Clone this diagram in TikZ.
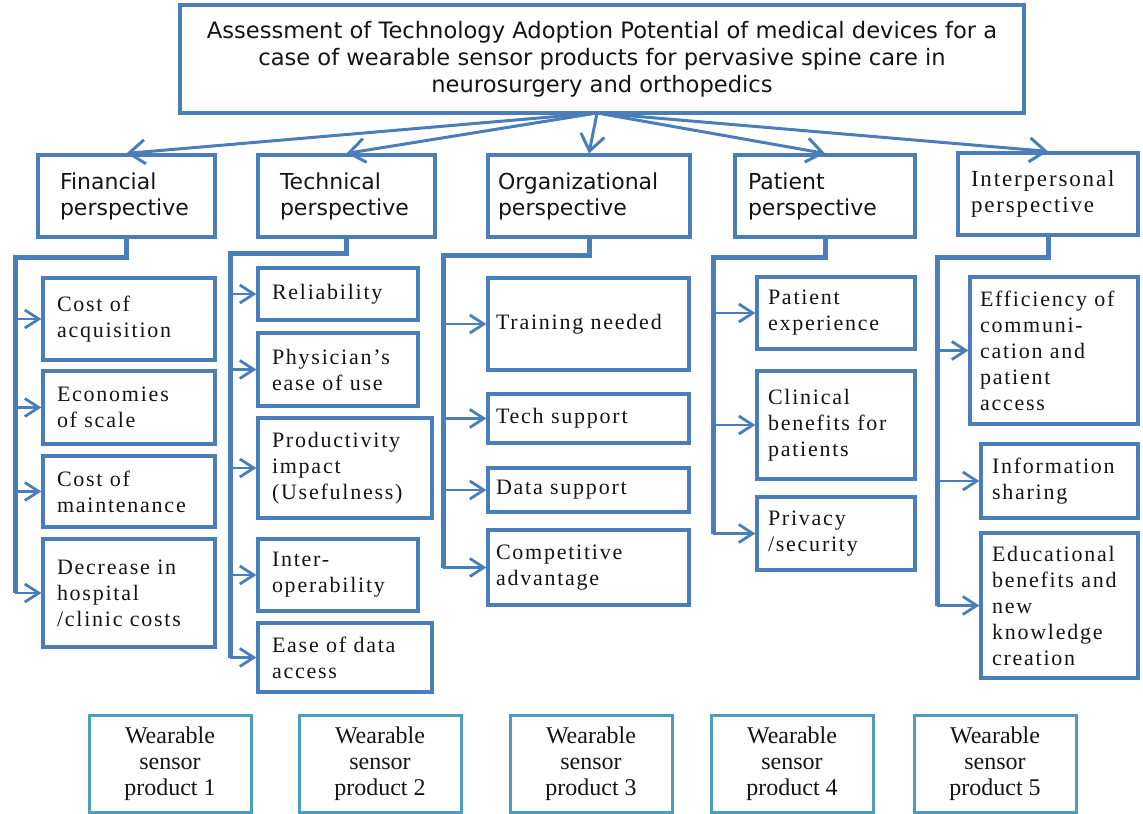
\documentclass[tikz,border=0pt]{standalone}
\usepackage{fontspec}
\setmainfont{Liberation Serif}
\newfontfamily\versans{DejaVu Sans}
\newfontfamily\subserif[LetterSpace=8]{Liberation Serif}
\usetikzlibrary{arrows.meta}

\definecolor{boxblue}{RGB}{74,126,187}
\definecolor{prodteal}{RGB}{75,158,188}
\definecolor{inkgray}{RGB}{20,20,20}

\begin{document}
\begin{tikzpicture}[x = 0.5pt, y = -0.5pt,
        bx/.style = {draw = boxblue, line width = 1.6pt, inner sep = 0pt, text = inkgray},
        titlebox/.style = {bx, align = center, font = \versans\fontsize{11.3}{13.5}\selectfont},
        persp/.style = {bx, align = left, minimum height = 41pt, font = \versans\fontsize{11}{13}\selectfont},
        sub/.style = {bx, align = left, font = \subserif\fontsize{11}{13}\selectfont},
        fincol/.style = {sub, minimum width = 86pt, text width = 72pt},
        teccol/.style = {sub, minimum width = 80pt, text width = 66pt},
        tecwide/.style = {sub, minimum width = 87pt, text width = 73pt},
        orgcol/.style = {sub, minimum width = 100.5pt, text width = 92.5pt},
        patcol/.style = {sub, minimum width = 79pt, text width = 68pt},
        intwide/.style = {sub, minimum width = 84pt, text width = 74pt},
        intcol/.style = {sub, minimum width = 78.5pt, text width = 67.5pt},
        prod/.style = {draw = prodteal, line width = 1.5pt, inner sep = 0pt, text = inkgray, align = center,
            minimum width = 81pt, minimum height = 48.5pt, font = \fontsize{12}{13}\selectfont},
        fan/.style = {boxblue, line width = 1.5pt, -{Straight Barb[length = 8pt, width = 12pt]}},
        bus/.style = {boxblue, line width = 2.5pt},
        arr/.style = {boxblue, line width = 1.4pt, -{Straight Barb[length = 7pt, width = 9pt]}}
    ]
        \useasboundingbox (0,0) rectangle (1143,813);

        \node[titlebox, minimum width = 422pt, minimum height = 54pt] (top) at (602,59)
            {Assessment of Technology Adoption Potential of medical devices for a\\case of wearable sensor products for pervasive spine care in\\neurosurgery and orthopedics};

        \node[persp, minimum width = 88.5pt, text width = 66.5pt] (fin) at (126.5,196) {Financial\\perspective};
        \node[persp, minimum width = 88.5pt, text width = 66.5pt] (tec) at (346.5,196) {Technical\\perspective};
        \node[persp, minimum width = 101pt, text width = 91pt] (org) at (589,196) {Organizational\\perspective};
        \node[persp, minimum width = 90pt, text width = 77pt] (pat) at (825,196) {Patient\\perspective};
        \node[persp, minimum width = 90pt, text width = 77pt, font = \subserif\fontsize{11.5}{13}\selectfont] (int) at (1048,194) {Interpersonal\\perspective};

        \node[fincol, minimum height = 41pt] (fin1) at (129,319) {Cost of\\acquisition};
        \node[fincol, minimum height = 36.5pt] (fin2) at (129,407.5) {Economies\\of scale};
        \node[fincol, minimum height = 35.5pt] (fin3) at (129,491.5) {Cost of\\maintenance};
        \node[fincol, minimum height = 54pt] (fin4) at (129,593) {Decrease in\\hospital\\/clinic costs};

        \node[teccol, minimum height = 26pt] (tec1) at (338,294) {Reliability};
        \node[teccol, minimum height = 36.5pt] (tec2) at (338,369.5) {Physician’s\\ease of use};
        \node[tecwide, minimum height = 50pt] (tec3) at (345,468) {Productivity\\impact\\(Usefulness)};
        \node[teccol, minimum height = 36pt] (tec4) at (338,575) {Inter-\\operability};
        \node[tecwide, minimum height = 34.5pt] (tec5) at (345,657.5) {Ease of data\\access};

        \node[orgcol, minimum height = 46pt] (org1) at (588.5,324) {Training needed};
        \node[orgcol, minimum height = 24.5pt] (org2) at (588.5,418.5) {Tech support};
        \node[orgcol, minimum height = 22pt] (org3) at (588.5,490) {Data support};
        \node[orgcol, minimum height = 37.5pt] (org4) at (588.5,567.5) {Competitive\\advantage};

        \node[patcol, minimum height = 36pt] (pat1) at (836,313) {Patient\\experience};
        \node[patcol, minimum height = 54pt] (pat2) at (836,425) {Clinical\\benefits for\\patients};
        \node[patcol, minimum height = 36.5pt] (pat3) at (836,533.5) {Privacy\\/security};

        \node[intwide, minimum height = 73.5pt] (int1) at (1054,350.5) {Efficiency of\\communi-\\cation and\\patient\\access};
        \node[intcol, minimum height = 37pt] (int2) at (1059.5,481) {Information\\sharing};
        \node[intcol, minimum height = 72.5pt] (int3) at (1059.5,605.5) {Educational\\benefits and\\new\\knowledge\\creation};

        \foreach \k/\x in {1/170, 2/380, 3/591, 4/792, 5/995}
            \node[prod] (prod\k) at (\x,763.5) {Wearable\\sensor\\product \k};

        \coordinate (fanpt) at (597,113);
        \foreach \p in {fin,tec,org,pat,int}
            \draw[fan] (fanpt) -- (\p.north);

        \coordinate (fin-bus) at (15,257);
        \coordinate (tec-bus) at (230,253);
        \coordinate (org-bus) at (443,255);
        \coordinate (pat-bus) at (713,257);
        \coordinate (int-bus) at (937,257);

        \foreach \p/\n in {fin/4, tec/5, org/4, pat/3, int/3} {
            \draw[bus] (\p.south) |- (\p-bus) -- (\p-bus |- \p\n.west);
            \foreach \i in {1,...,\n}
                \draw[arr] (\p-bus |- \p\i.west) -- (\p\i.west);
        }
    \end{tikzpicture}
\end{document}
